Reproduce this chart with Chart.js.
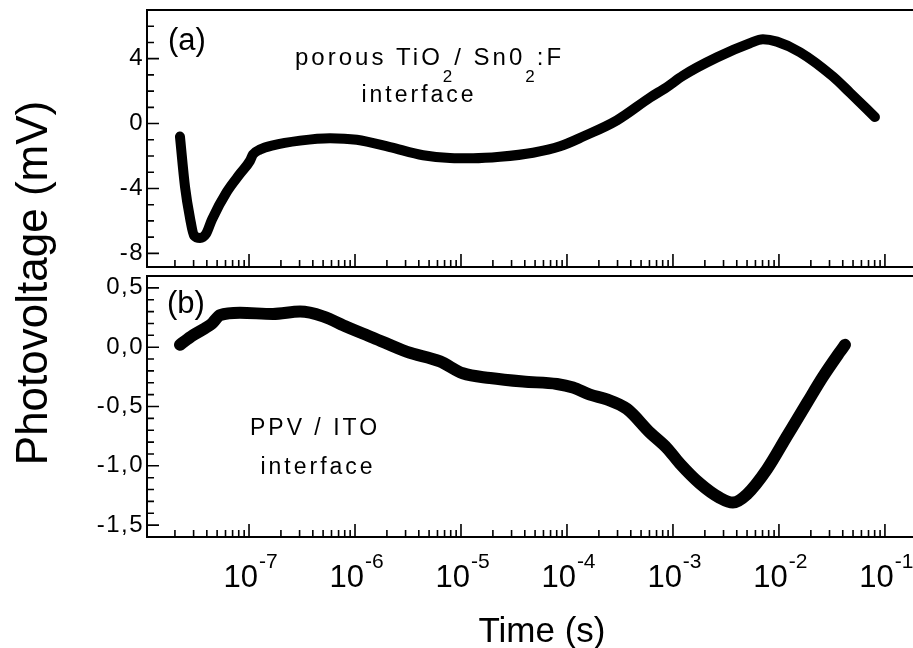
<!DOCTYPE html>
<html>
<head>
<meta charset="utf-8">
<script src="https://cdn.jsdelivr.net/npm/chart.js@4.4.1/dist/chart.umd.min.js"></script>
<style>
  html, body { margin: 0; padding: 0; background: #fff; }
  #wrap { position: relative; width: 913px; height: 648px; }
  #wrap canvas { position: absolute; left: 0; top: 0; }
</style>
</head>
<body>
<div id="wrap">
  <canvas id="panelB" width="913" height="648"></canvas>
  <canvas id="panelA" width="913" height="648"></canvas>
</div>
<script>
// --- data ---
// (a) porous TiO2 / SnO2:F
const timeA = [2.23e-8, 2.49e-8, 2.77e-8, 3.03e-8, 3.45e-8, 3.93e-8, 4.48e-8, 6.19e-8, 8.22e-8, 1.02e-7,
  1.09e-7, 1.27e-7, 1.68e-7, 3.03e-7, 5.81e-7, 1.04e-6, 2.14e-6, 4.39e-6, 7.87e-6, 1.30e-5,
  2.33e-5, 4.78e-5, 8.59e-5, 1.42e-4, 2.96e-4, 6.07e-4, 8.77e-4, 1.24e-3, 2.60e-3, 5.32e-3,
  7.06e-3, 9.57e-3, 1.58e-2, 3.23e-2, 4.68e-2, 8.05e-2];
const voltA = [-0.8, -3.9, -5.8, -6.9, -7.05, -6.8, -5.9, -4.2, -3.1, -2.3,
  -1.9, -1.6, -1.34, -1.05, -0.9, -1.0, -1.45, -1.95, -2.12, -2.14,
  -2.05, -1.8, -1.4, -0.8, 0.2, 1.6, 2.25, 2.95, 4.08, 4.95,
  5.2, 5.05, 4.4, 2.9, 1.9, 0.4];

// (b) PPV / ITO
const timeB = [2.23e-8, 2.96e-8, 3.85e-8, 4.48e-8, 5.33e-8, 8.22e-8, 1.68e-7, 3.03e-7, 4.99e-7, 8.41e-7,
  1.48e-6, 3.10e-6, 6.34e-6, 1.04e-5, 1.88e-5, 3.85e-5, 8.05e-5, 1.14e-4, 1.65e-4, 2.38e-4,
  3.68e-4, 6.07e-4, 8.77e-4, 1.16e-3, 1.80e-3, 2.77e-3, 3.68e-3, 4.99e-3, 7.70e-3, 1.19e-2,
  1.84e-2, 2.60e-2, 3.76e-2, 4.20e-2];
const voltB = [0.02, 0.1, 0.16, 0.2, 0.27, 0.29, 0.28, 0.3, 0.26, 0.17,
  0.08, -0.04, -0.12, -0.22, -0.26, -0.29, -0.31, -0.34, -0.4, -0.44,
  -0.52, -0.72, -0.85, -0.98, -1.15, -1.27, -1.31, -1.24, -1.03, -0.75,
  -0.47, -0.25, -0.04, 0.02];

// tick labels
const xDecades = [1e-7, 1e-6, 1e-5, 1e-4, 1e-3, 1e-2, 1e-1];
const xDecadeExp = ['-7', '-6', '-5', '-4', '-3', '-2', '-1'];
const yTicksA = [4, 0, -4, -8];
const yLabelsA = ['4', '0', '-4', '-8'];
const yTicksB = [0.5, 0, -0.5, -1, -1.5];
const yLabelsB = ['0,5', '0,0', '-0,5', '-1,0', '-1,5'];

const FONT = 'Arial, "Liberation Sans", Helvetica, sans-serif';
const X_MIN = 1.09e-8, X_MAX = 0.184;

function spacedText(ctx, txt, x, y, size, align) {
    ctx.font = size + 'px ' + FONT;
    ctx.letterSpacing = '3px';
    ctx.textAlign = align || 'center';
    ctx.textBaseline = 'alphabetic';
    ctx.fillText(txt, x, y);
    ctx.letterSpacing = '0px';
}

// frame + inward ticks, drawn from the chart's own scales
function framePlugin(cfg) {
    return {
        id: 'frame',
        afterDatasetsDraw(chart) {
            const ctx = chart.ctx, a = chart.chartArea;
            const xs = chart.scales.x, ys = chart.scales.y;
            ctx.save();
            ctx.strokeStyle = '#000';
            ctx.fillStyle = '#000';
            ctx.lineWidth = 2;
            // right side of the box is cut off by the page
            ctx.beginPath();
            ctx.moveTo(chart.width, a.top);
            ctx.lineTo(a.left, a.top);
            ctx.lineTo(a.left, a.bottom);
            ctx.lineTo(chart.width, a.bottom);
            ctx.stroke();

            ctx.lineWidth = 1.6;
            ctx.beginPath();
            // y minor ticks
            const k0 = Math.ceil(ys.min / cfg.yMinor - 1e-6), k1 = Math.floor(ys.max / cfg.yMinor + 1e-6);
            for (let k = k0; k <= k1; k++) {
                const py = ys.getPixelForValue(k * cfg.yMinor);
                ctx.moveTo(a.left, py); ctx.lineTo(a.left + 7, py);
            }
            cfg.yTicks.forEach(v => {
                const py = ys.getPixelForValue(v);
                ctx.moveTo(a.left, py); ctx.lineTo(a.left + 12, py);
            });
            // x ticks on the bottom edge
            for (let e = -8; e <= -1; e++) {
                for (let m = 2; m <= 9; m++) {
                    const v = m * Math.pow(10, e);
                    if (v < xs.min || v > xs.max) continue;
                    const px = xs.getPixelForValue(v);
                    ctx.moveTo(px, a.bottom); ctx.lineTo(px, a.bottom - 7);
                }
            }
            xDecades.forEach(v => {
                const px = xs.getPixelForValue(v);
                ctx.moveTo(px, a.bottom); ctx.lineTo(px, a.bottom - 13);
            });
            ctx.stroke();

            // y tick labels
            ctx.font = '24px ' + FONT;
            ctx.letterSpacing = '1.5px';
            ctx.textAlign = 'right';
            ctx.textBaseline = 'middle';
            cfg.yTicks.forEach((v, i) => {
                ctx.fillText(cfg.yLabels[i], a.left - 3, ys.getPixelForValue(v));
            });
            ctx.letterSpacing = '0px';

            // x tick labels + titles only under the lower panel
            if (cfg.xLabels) {
                ctx.textAlign = 'left';
                ctx.textBaseline = 'alphabetic';
                xDecades.forEach((v, i) => {
                    const px = xs.getPixelForValue(v);
                    ctx.font = '31px ' + FONT;
                    const wb = ctx.measureText('10').width;
                    ctx.font = '21px ' + FONT;
                    const we = ctx.measureText(xDecadeExp[i]).width;
                    const x0 = px - (wb + we) / 2 + 1;
                    ctx.font = '31px ' + FONT;
                    ctx.fillText('10', x0, a.bottom + 50);
                    ctx.font = '21px ' + FONT;
                    ctx.fillText(xDecadeExp[i], x0 + wb + 1, a.bottom + 31);
                });
                ctx.font = '35px ' + FONT;
                ctx.textAlign = 'center';
                ctx.fillText('Time (s)', 542, 642);

                ctx.save();
                ctx.translate(47, 283);
                ctx.rotate(-Math.PI / 2);
                ctx.font = '44px ' + FONT;
                ctx.textAlign = 'center';
                ctx.fillText('Photovoltage (mV)', 0, 0);
                ctx.restore();
            }
            cfg.notes(ctx);
            ctx.restore();
        }
    };
}

function makePanel(id, times, volts, yMin, yMax, pad, lineW, cfg) {
    new Chart(document.getElementById(id), {
        type: 'scatter',
        data: {
            datasets: [{
                data: times.map((t, i) => ({ x: t, y: volts[i] })),
                showLine: true,
                borderColor: '#000',
                backgroundColor: '#000',
                borderWidth: lineW,
                borderCapStyle: 'round',
                borderJoinStyle: 'round',
                cubicInterpolationMode: 'monotone',
                pointRadius: 0
            }]
        },
        options: {
            responsive: false,
            animation: false,
            layout: { padding: pad },
            scales: {
                x: { type: 'logarithmic', min: X_MIN, max: X_MAX, display: false },
                y: { type: 'linear', min: yMin, max: yMax, display: false }
            },
            plugins: { legend: { display: false }, tooltip: { enabled: false } }
        },
        plugins: [framePlugin(cfg)]
    });
}

// --- (b) lower panel ---
makePanel('panelB', timeB, voltB, -1.6, 0.6, { left: 147, top: 276, right: 0, bottom: 111 }, 12, {
    yTicks: yTicksB, yLabels: yLabelsB, yMinor: 0.1, xLabels: true,
    notes(ctx) {
        ctx.font = '31px ' + FONT;
        ctx.textAlign = 'left';
        ctx.textBaseline = 'alphabetic';
        ctx.fillText('(b)', 167, 313);
        spacedText(ctx, 'PPV / ITO', 315, 435, 23);
        spacedText(ctx, 'interface', 318, 474, 23);
    }
});

// --- (a) upper panel ---
makePanel('panelA', timeA, voltA, -8.84, 7, { left: 147, top: 10, right: 0, bottom: 381 }, 10, {
    yTicks: yTicksA, yLabels: yLabelsA, yMinor: 1, xLabels: false,
    notes(ctx) {
        ctx.font = '31px ' + FONT;
        ctx.textAlign = 'left';
        ctx.textBaseline = 'alphabetic';
        ctx.fillText('(a)', 168, 50);
        // porous TiO2/ Sn02:F with subscripts
        const parts = [['porous TiO', false], ['2', true], ['/ Sn0', false], ['2', true], [':F', false]];
        let x = 295;
        ctx.letterSpacing = '3px';
        parts.forEach(p => {
            ctx.font = (p[1] ? 17 : 24) + 'px ' + FONT;
            ctx.fillText(p[0], x, p[1] ? 82 : 65);
            x += ctx.measureText(p[0]).width + (p[1] ? -1 : 0);
        });
        ctx.letterSpacing = '0px';
        spacedText(ctx, 'interface', 419, 102, 23);
    }
});
</script>
</body>
</html>
